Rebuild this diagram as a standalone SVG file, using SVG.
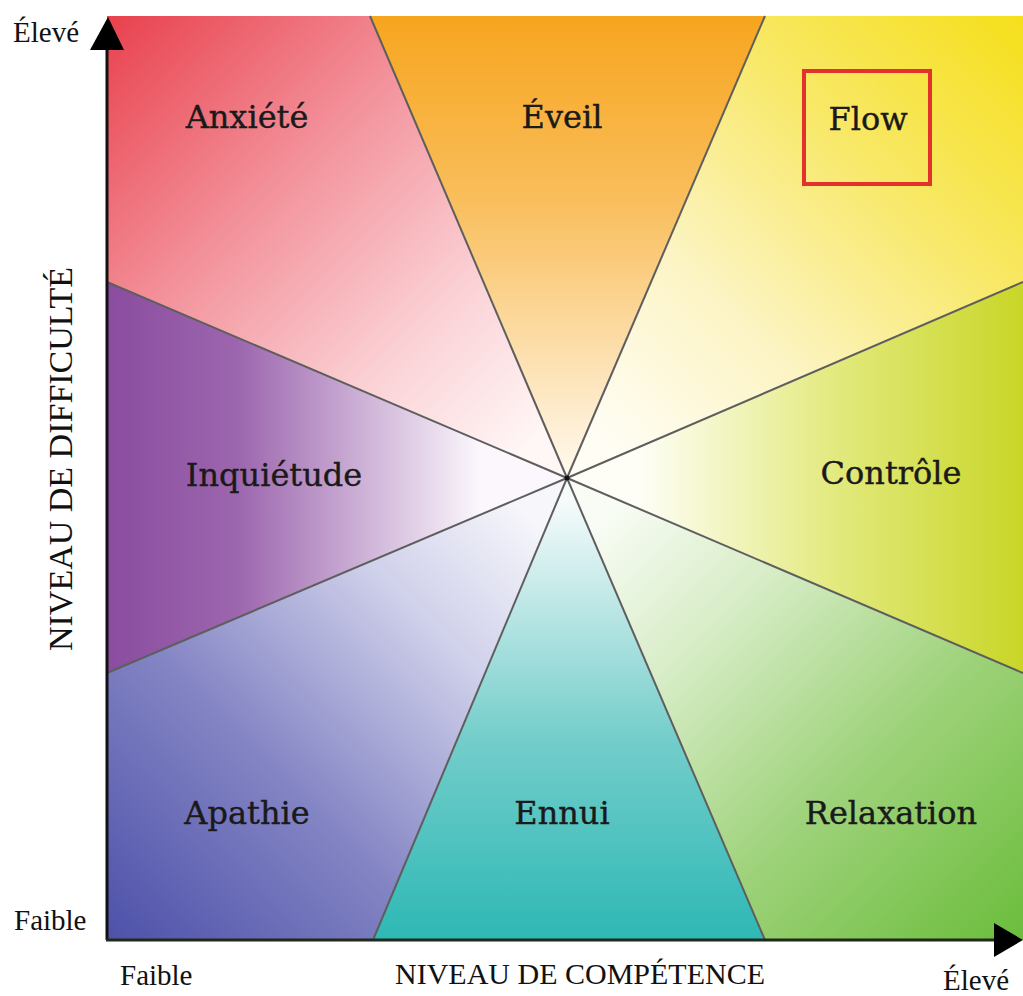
<svg xmlns="http://www.w3.org/2000/svg" width="1023" height="996" viewBox="0 0 1023 996">
<style>
.lbl{font-family:"DejaVu Serif","Liberation Serif",serif;font-size:32px;fill:#1a1a1a;stroke:#1a1a1a;stroke-width:0.4;text-anchor:middle}
.ax{font-family:"Liberation Serif","Times New Roman",serif;font-size:29px;fill:#111}
.axt{font-family:"Liberation Serif","Times New Roman",serif;font-size:30px;fill:#111;text-anchor:middle}
.ray{stroke:#5e5e5e;stroke-width:2;fill:none}
</style>
<defs>
<linearGradient id="gAnx" gradientUnits="userSpaceOnUse" x1="107" y1="16" x2="530" y2="445">
<stop offset="0" stop-color="#e8414d"/><stop offset="0.4" stop-color="#f3929b"/><stop offset="0.75" stop-color="#fbd3d7"/><stop offset="1" stop-color="#fff6f6"/></linearGradient>
<linearGradient id="gEve" gradientUnits="userSpaceOnUse" x1="0" y1="16" x2="0" y2="478">
<stop offset="0" stop-color="#f7a51e"/><stop offset="0.4" stop-color="#f9be5c"/><stop offset="1" stop-color="#fffaf0"/></linearGradient>
<linearGradient id="gFlow" gradientUnits="userSpaceOnUse" x1="1023" y1="16" x2="610" y2="445">
<stop offset="0" stop-color="#f6df1a"/><stop offset="0.35" stop-color="#f8e866"/><stop offset="0.7" stop-color="#fcf4c4"/><stop offset="1" stop-color="#fffdf4"/></linearGradient>
<linearGradient id="gCtl" gradientUnits="userSpaceOnUse" x1="1023" y1="0" x2="640" y2="0">
<stop offset="0" stop-color="#c9d627"/><stop offset="0.5" stop-color="#e3ea80"/><stop offset="1" stop-color="#fefef6"/></linearGradient>
<linearGradient id="gRel" gradientUnits="userSpaceOnUse" x1="1023" y1="940" x2="610" y2="515">
<stop offset="0" stop-color="#6bbd3c"/><stop offset="0.4" stop-color="#9ed27a"/><stop offset="0.75" stop-color="#d8edc8"/><stop offset="1" stop-color="#f8fcf4"/></linearGradient>
<linearGradient id="gEnn" gradientUnits="userSpaceOnUse" x1="0" y1="940" x2="0" y2="500">
<stop offset="0" stop-color="#2eb8b5"/><stop offset="0.45" stop-color="#72cdca"/><stop offset="1" stop-color="#f6fbfb"/></linearGradient>
<linearGradient id="gApa" gradientUnits="userSpaceOnUse" x1="107" y1="940" x2="530" y2="515">
<stop offset="0" stop-color="#4d51a9"/><stop offset="0.4" stop-color="#8485c4"/><stop offset="0.75" stop-color="#cfd0ea"/><stop offset="1" stop-color="#f6f6fb"/></linearGradient>
<linearGradient id="gInq" gradientUnits="userSpaceOnUse" x1="107" y1="0" x2="480" y2="0">
<stop offset="0" stop-color="#8a4c9f"/><stop offset="0.35" stop-color="#9c66ae"/><stop offset="1" stop-color="#fbf7fc"/></linearGradient>
</defs>
<rect width="1023" height="996" fill="#ffffff"/>
<g id="anxiete"><polygon points="107,16 370,16 567,478 107,282" fill="url(#gAnx)"/><text class="lbl" x="247" y="128">Anxiété</text></g>
<g id="eveil"><polygon points="370,16 765,16 567,478" fill="url(#gEve)"/><text class="lbl" x="562" y="128">Éveil</text></g>
<g id="flow"><polygon points="765,16 1023,16 1023,282 567,478" fill="url(#gFlow)"/><rect x="804" y="71" width="126" height="113" fill="none" stroke="#e3312b" stroke-width="4"/><text class="lbl" x="868" y="130">Flow</text></g>
<g id="controle"><polygon points="1023,282 1023,673 567,478" fill="url(#gCtl)"/><text class="lbl" x="891" y="484">Contrôle</text></g>
<g id="relaxation"><polygon points="1023,673 1023,940 765,940 567,478" fill="url(#gRel)"/><text class="lbl" x="891" y="824">Relaxation</text></g>
<g id="ennui"><polygon points="765,940 373,940 567,478" fill="url(#gEnn)"/><text class="lbl" x="562" y="824">Ennui</text></g>
<g id="apathie"><polygon points="373,940 107,940 107,673 567,478" fill="url(#gApa)"/><text class="lbl" x="247" y="824">Apathie</text></g>
<g id="inquietude"><polygon points="107,673 107,282 567,478" fill="url(#gInq)"/><text class="lbl" x="274" y="486">Inquiétude</text></g>
<g id="connectors">
<line class="ray" x1="567" y1="478" x2="370" y2="16"/>
<line class="ray" x1="567" y1="478" x2="765" y2="16"/>
<line class="ray" x1="567" y1="478" x2="1023" y2="282"/>
<line class="ray" x1="567" y1="478" x2="1023" y2="673"/>
<line class="ray" x1="567" y1="478" x2="765" y2="940"/>
<line class="ray" x1="567" y1="478" x2="373" y2="940"/>
<line class="ray" x1="567" y1="478" x2="107" y2="673"/>
<line class="ray" x1="567" y1="478" x2="107" y2="282"/>
<circle cx="567" cy="478" r="2.5" fill="#111"/>
<line x1="107" y1="940" x2="107" y2="40" stroke="#111" stroke-width="3"/>
<polygon points="108,17 90,50 124,50" fill="#000"/>
<line x1="106" y1="940" x2="1000" y2="940" stroke="#1f2a1a" stroke-width="3"/>
<polygon points="1023,940 994,923 994,957" fill="#000"/>
</g>
<g id="axes-labels">
<text class="ax" x="13" y="42">Élevé</text>
<text class="ax" x="14" y="930">Faible</text>
<text class="ax" x="120" y="985">Faible</text>
<text class="ax" x="943" y="990">Élevé</text>
<text class="axt" x="580" y="984">NIVEAU DE COMPÉTENCE</text>
<text class="axt" style="font-size:34px" transform="translate(72,459) rotate(-90)">NIVEAU DE DIFFICULTÉ</text>
</g>
</svg>
